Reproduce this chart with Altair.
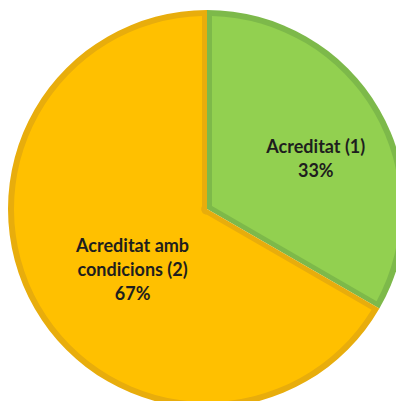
import altair as alt
import pandas as pd
import math

# ---- data ----
categories = ["Acreditat (1)", "Acreditat amb condicions (2)"]
values = [1, 2]
label_names = ["Acreditat (1)", "Acreditat amb\ncondicions (2)"]
order = [0, 1]

light_colors = ["#92D050", "#FFC000"]
dark_colors = ["#7DB94A", "#E8AD0C"]

df = pd.DataFrame({"cat": categories, "value": values, "name": label_names, "idx": order})

R = 199          # outer radius
BORDER = 6       # outer border width
EDGE = 5         # radial border width
CX, CY = 199, 201

inner_r = EDGE / 0.866 - 0.02
rp = (inner_r ** 2 + (R - BORDER) ** 2) ** 0.5
pad = 2 * math.asin(EDGE / rp)

base = alt.Chart(df).transform_joinaggregate(total="sum(value)").transform_calculate(
    label="datum.name + '\\n' + round(datum.value / datum.total * 100) + '%'"
).encode(
    theta=alt.Theta("value:Q", stack=True),
    order=alt.Order("idx:Q"),
    x=alt.value(CX),
    y=alt.value(CY),
)

dark = base.mark_arc(outerRadius=R).encode(
    color=alt.Color("cat:N", scale=alt.Scale(domain=categories, range=dark_colors), legend=None)
)
light = base.mark_arc(outerRadius=R - BORDER, innerRadius=inner_r, padAngle=pad).encode(
    color=alt.Color("cat:N", scale=alt.Scale(domain=categories, range=light_colors), legend=None)
)

text_props = dict(font="Lato", fontWeight="bold", fontSize=18, lineBreak="\n",
                  lineHeight=24, color="#1E1E1E", align="center", baseline="middle")

t1 = base.mark_text(radius=121, dx=4, dy=-1, **text_props).encode(
    text=alt.condition(alt.datum.cat == categories[0], alt.Text("label:N"), alt.value(""))
)
t2 = base.mark_text(radius=94, dx=7, dy=-9, **text_props).encode(
    text=alt.condition(alt.datum.cat == categories[1], alt.Text("label:N"), alt.value(""))
)

chart = alt.layer(dark, light, t1, t2).resolve_scale(color="independent").properties(
    width=388, height=393, padding=0, autosize=alt.AutoSizeParams(type="none"),
    background="white"
).configure_view(stroke=None)

chart.save("out.html", embed_options={"renderer": "svg", "actions": False})
